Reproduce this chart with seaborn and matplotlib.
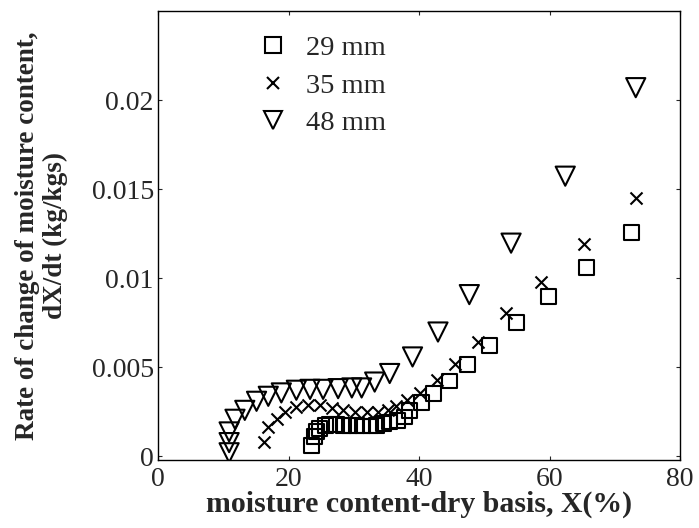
import matplotlib
matplotlib.use("Agg")
import matplotlib.pyplot as plt
import seaborn as sns
import pandas as pd
from matplotlib.ticker import FormatStrFormatter
from matplotlib.lines import Line2D

# Drying-rate data: moisture content (%) vs dX/dt (kg/kgs) for three slice thicknesses
x_29 = [23.5, 24.0, 24.3, 24.8, 25.6, 26.3, 27.4, 28.4, 29.4, 30.4, 31.4, 32.5, 33.5,
        34.5, 35.5, 36.7, 37.8, 38.5, 40.4, 42.2, 44.6, 47.4, 50.8, 54.9, 59.9, 65.6, 72.6]
y_29 = [0.00062, 0.00109, 0.00137, 0.00156, 0.00174, 0.00178, 0.00178, 0.00174, 0.00174,
        0.00174, 0.00170, 0.00170, 0.00174, 0.00184, 0.00193, 0.00202, 0.00221, 0.00258,
        0.00300, 0.00352, 0.00423, 0.00517, 0.00624, 0.00749, 0.00895, 0.01060, 0.01257]

x_35 = [16.3, 16.9, 18.2, 19.4, 21.2, 23.0, 24.8, 26.6, 28.4, 30.2, 32.0, 33.7, 35.3,
        36.5, 38.1, 40.2, 42.7, 45.5, 49.0, 53.3, 58.7, 65.3, 73.2]
y_35 = [0.00080, 0.00165, 0.00212, 0.00249, 0.00277, 0.00290, 0.00287, 0.00271, 0.00258,
        0.00249, 0.00249, 0.00249, 0.00258, 0.00283, 0.00315, 0.00356, 0.00427, 0.00520,
        0.00642, 0.00802, 0.00979, 0.01195, 0.01448]

x_48 = [10.9, 10.9, 10.9, 11.8, 13.3, 15.1, 16.9, 18.9, 21.2, 23.3, 25.3, 27.6, 29.7,
        31.2, 33.2, 35.5, 39.0, 42.9, 47.7, 54.1, 62.4, 73.2]
y_48 = [0.00020, 0.00077, 0.00137, 0.00208, 0.00258, 0.00309, 0.00337, 0.00356, 0.00371,
        0.00376, 0.00376, 0.00380, 0.00384, 0.00384, 0.00417, 0.00465, 0.00558, 0.00698,
        0.00908, 0.01197, 0.01573, 0.02070]

series_labels = ["29 mm", "35 mm", "48 mm"]
x_ticks = [0, 20, 40, 60, 80]
y_ticks = [0, 0.005, 0.01, 0.015, 0.02]

sns.set_style("ticks")
plt.rcParams["font.family"] = ["Liberation Serif", "DejaVu Serif"]
plt.rcParams["mathtext.fontset"] = "stix"

fig = plt.figure(figsize=(6.99, 5.28), dpi=100)
ax = fig.add_axes([0.226, 0.129, 0.747, 0.850])

d29 = pd.DataFrame({"x": x_29, "y": y_29})
d35 = pd.DataFrame({"x": x_35, "y": y_35})
d48 = pd.DataFrame({"x": x_48, "y": y_48})

sns.scatterplot(data=d29, x="x", y="y", marker="s", s=115, facecolor="none",
                edgecolor="black", linewidth=1.5, ax=ax, zorder=3)
sns.scatterplot(data=d35, x="x", y="y", marker="x", s=75, color="black",
                linewidth=1.5, ax=ax, zorder=3)
sns.scatterplot(data=d48, x="x", y="y", marker="v", s=190, facecolor="none",
                edgecolor="black", linewidth=1.5, ax=ax, zorder=3)

ax.set_xlim(0, 80)
ax.set_ylim(-0.0002, 0.025)
ax.set_xticks(x_ticks)
ax.set_yticks(y_ticks)
ax.yaxis.set_major_formatter(FormatStrFormatter("%g"))
ax.tick_params(direction="in", length=3, width=0.8, top=True, right=True,
               labelsize=20, pad=3)
ax.tick_params(axis="x", pad=5)
for sp in ax.spines.values():
    sp.set_linewidth(1.0)
    sp.set_color("black")

ax.set_xlabel("moisture content-dry basis, X(%)", fontsize=21.5, fontweight="bold",
              labelpad=-1)
ax.set_ylabel("Rate of change of moisture content,\ndX/dt (kg/kgs)", fontsize=19.5,
              fontweight="bold", labelpad=17, linespacing=1.15)

handles = [
    Line2D([], [], linestyle="none", marker="s", markersize=11, markerfacecolor="none",
           markeredgecolor="black", markeredgewidth=1.5),
    Line2D([], [], linestyle="none", marker="x", markersize=8, color="black",
           markeredgewidth=1.5),
    Line2D([], [], linestyle="none", marker="v", markersize=13, markerfacecolor="none",
           markeredgecolor="black", markeredgewidth=1.5),
]
ax.legend(handles, series_labels, loc="upper left", bbox_to_anchor=(0.155, 0.99),
          frameon=False, fontsize=20.5, handlelength=1.0, handletextpad=0.65,
          labelspacing=0.4, borderaxespad=0.3)

fig.savefig("out.png", dpi=100)
